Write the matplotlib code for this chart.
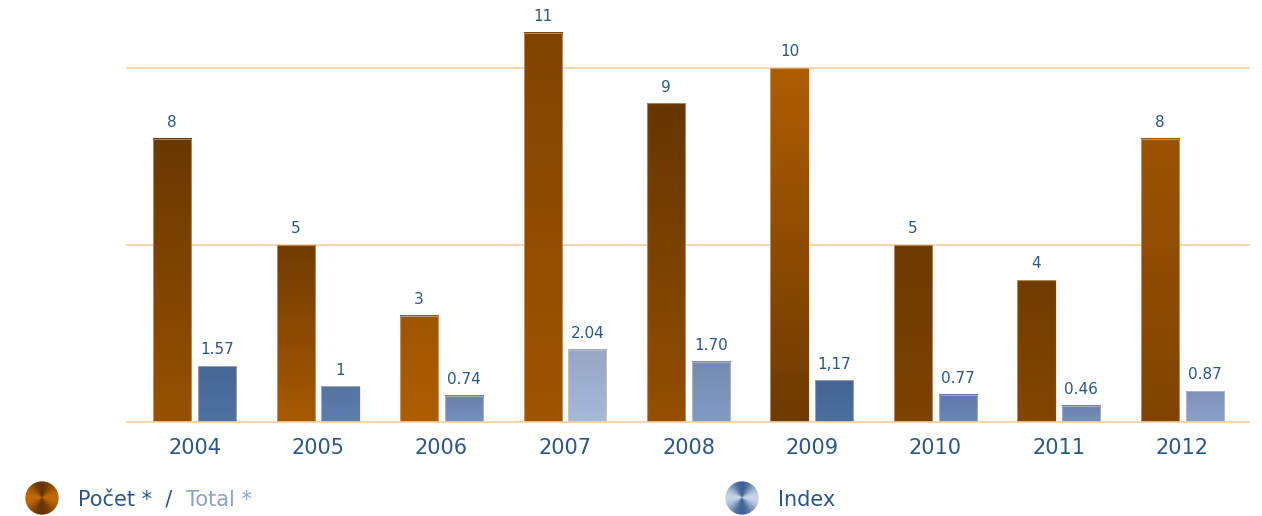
import numpy as np
import matplotlib
matplotlib.use("Agg")
import matplotlib.pyplot as plt
from matplotlib.colors import LinearSegmentedColormap, to_rgb
from matplotlib.patches import Circle

years = ["2004", "2005", "2006", "2007", "2008", "2009", "2010", "2011", "2012"]
pocet = [8, 5, 3, 11, 9, 10, 5, 4, 8]
index_labels = ["1.57", "1", "0.74", "2.04", "1.70", "1,17", "0.77", "0.46", "0.87"]
index_vals = [float(s.replace(",", ".")) for s in index_labels]

# shading of each brown bar: (top, bottom) mix between dark brown and orange
brown_shade = [(0.05, 0.65), (0.15, 0.85), (0.75, 0.95), (0.35, 0.75), (0.0, 0.6),
               (0.95, 0.1), (0.1, 0.3), (0.15, 0.4), (0.7, 0.35)]
blue_fill = ["#4a6c9c", "#5a78a8", "#7088b5", "#9eb0cf", "#7b92bb",
             "#486a9a", "#6580b0", "#7088b5", "#8399c2"]

dark_brown = np.array(to_rgb("#663600"))
orange = np.array(to_rgb("#b25f00"))
txt_blue = "#2b5788"
grid_col = "#f7cfa0"

plt.rcParams['font.family'] = ['DejaVu Sans']
fig = plt.figure(figsize=(12.62, 5.16), dpi=100)
ax = fig.add_axes([126 / 1262, 92 / 516, (1250 - 126) / 1262, 424 / 516])

bw = 0.308
off = 0.182
x = np.arange(len(years))


def grad_bar(ax, x0, h, c_top, c_bot):
    n = 64
    t = np.linspace(0, 1, n)[:, None, None]
    img = c_top[None, None, :] * (1 - t) + c_bot[None, None, :] * t
    img = np.repeat(img, 4, axis=1)
    ax.imshow(img, extent=[x0, x0 + bw, 0, h], origin="upper",
              aspect="auto", interpolation="bilinear", zorder=3)
    ax.plot([x0, x0, x0 + bw, x0 + bw], [0, h, h, 0], color="#ead2bb",
            lw=0.8, zorder=4, alpha=0.5)


for i in range(len(years)):
    a, b = brown_shade[i]
    ct = dark_brown * (1 - a) + orange * a
    cb = dark_brown * (1 - b) + orange * b
    grad_bar(ax, x[i] - off - bw / 2, pocet[i], ct, cb)
    ax.text(x[i] - off, pocet[i] + 0.25, str(pocet[i]), ha="center", va="bottom",
            color=txt_blue, fontsize=11)

    base = np.array(to_rgb(blue_fill[i]))
    ct = np.clip(base * 0.95, 0, 1)
    cb = np.clip(base * 1.05, 0, 1)
    grad_bar(ax, x[i] + off - bw / 2, index_vals[i], ct, cb)
    ax.text(x[i] + off, index_vals[i] + 0.25, index_labels[i], ha="center",
            va="bottom", color=txt_blue, fontsize=11)

for yv in [0, 5, 10]:
    ax.axhline(yv, color=grid_col, lw=1.2, zorder=1 if yv else 5)

ax.set_xlim(-0.555, 8.547)
ax.set_ylim(-0.06, 422 / 35.4)
for s in ax.spines.values():
    s.set_visible(False)
ax.set_yticks([])
ax.set_xticks(x)
ax.set_xticklabels(years, fontsize=15, color=txt_blue)
ax.tick_params(axis="x", length=0, pad=10)


def legend_dot(cx, cy, c1, c2):
    r = 17
    lax = fig.add_axes([(cx - r) / 1262, (516 - cy - r) / 516, 2 * r / 1262, 2 * r / 516])
    yy, xx = np.mgrid[-1:1:80j, -1:1:80j]
    ang = np.arctan2(yy, xx)
    val = 0.5 + 0.5 * np.cos(2 * ang)
    cmap = LinearSegmentedColormap.from_list("dot", [c1, c2])
    im = lax.imshow(val, cmap=cmap, extent=[-1, 1, -1, 1], interpolation="bilinear")
    circ = Circle((0, 0), 0.98, transform=lax.transData)
    im.set_clip_path(circ)
    lax.set_xlim(-1, 1)
    lax.set_ylim(-1, 1)
    lax.axis("off")


legend_dot(42, 498, "#653500", "#c26a08")
legend_dot(742, 498, "#3f6297", "#c8d4e8")

ly = 1 - 500 / 516
t1 = fig.text(78 / 1262, ly, "Počet *  /  ", color=txt_blue, fontsize=15, va="center")
fig.canvas.draw()
bb = t1.get_window_extent()
fig.text(bb.x1 / 1262, ly, "Total *", color="#8ca2c4", fontsize=15, va="center")
fig.text(778 / 1262, ly, "Index", color=txt_blue, fontsize=15, va="center")

fig.savefig("out.png", dpi=100)
